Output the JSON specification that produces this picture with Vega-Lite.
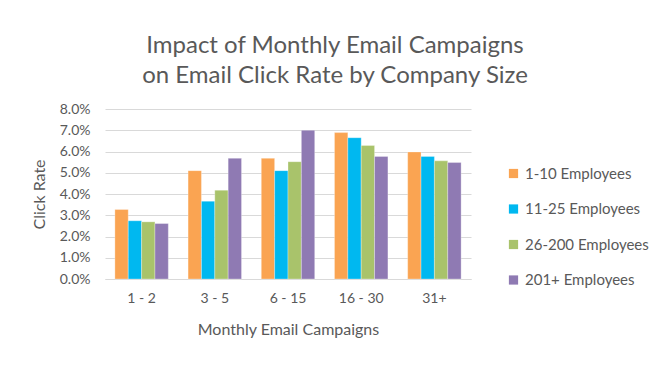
{
  "$schema": "https://vega.github.io/schema/vega-lite/v6.json",
  "autosize": "none",
  "width": 366,
  "height": 170,
  "padding": {"left": 105, "top": 109, "right": 198, "bottom": 88},
  "background": "white",
  "title": {
    "text": ["Impact of Monthly Email Campaigns", "on Email Click Rate by Company Size"],
    "font": "Lato",
    "fontSize": 24,
    "fontWeight": "normal",
    "color": "#595959",
    "lineHeight": 30,
    "anchor": "middle",
    "dx": 47,
    "offset": 14
  },
  "data": {
    "values": [
      {"campaigns": "1 - 2", "size": "1-10 Employees", "rate": 0.0327},
      {"campaigns": "1 - 2", "size": "11-25 Employees", "rate": 0.0274},
      {"campaigns": "1 - 2", "size": "26-200 Employees", "rate": 0.0269},
      {"campaigns": "1 - 2", "size": "201+ Employees", "rate": 0.0261},
      {"campaigns": "3 - 5", "size": "1-10 Employees", "rate": 0.0510},
      {"campaigns": "3 - 5", "size": "11-25 Employees", "rate": 0.0366},
      {"campaigns": "3 - 5", "size": "26-200 Employees", "rate": 0.0418},
      {"campaigns": "3 - 5", "size": "201+ Employees", "rate": 0.0568},
      {"campaigns": "6 - 15", "size": "1-10 Employees", "rate": 0.0568},
      {"campaigns": "6 - 15", "size": "11-25 Employees", "rate": 0.0510},
      {"campaigns": "6 - 15", "size": "26-200 Employees", "rate": 0.0552},
      {"campaigns": "6 - 15", "size": "201+ Employees", "rate": 0.0700},
      {"campaigns": "16 - 30", "size": "1-10 Employees", "rate": 0.0689},
      {"campaigns": "16 - 30", "size": "11-25 Employees", "rate": 0.0665},
      {"campaigns": "16 - 30", "size": "26-200 Employees", "rate": 0.0628},
      {"campaigns": "16 - 30", "size": "201+ Employees", "rate": 0.0577},
      {"campaigns": "31+", "size": "1-10 Employees", "rate": 0.0598},
      {"campaigns": "31+", "size": "11-25 Employees", "rate": 0.0577},
      {"campaigns": "31+", "size": "26-200 Employees", "rate": 0.0556},
      {"campaigns": "31+", "size": "201+ Employees", "rate": 0.0548}
    ]
  },
  "mark": {"type": "bar", "stroke": "white", "strokeWidth": 0.5, "strokeOpacity": 0.6},
  "encoding": {
    "x": {
      "field": "campaigns",
      "type": "nominal",
      "sort": ["1 - 2", "3 - 5", "6 - 15", "16 - 30", "31+"],
      "scale": {"paddingInner": 0.27, "paddingOuter": 0.135},
      "axis": {
        "title": "Monthly Email Campaigns",
        "titleFont": "Lato",
        "titleFontSize": 16,
        "titleFontWeight": "normal",
        "titleColor": "#595959",
        "titlePadding": 16,
        "labelFont": "Lato",
        "labelFontSize": 14,
        "labelColor": "#595959",
        "labelAngle": 0,
        "labelPadding": 12,
        "ticks": false,
        "domainColor": "#D9D9D9",
        "domainWidth": 1
      }
    },
    "xOffset": {
      "field": "size",
      "type": "nominal",
      "sort": ["1-10 Employees", "11-25 Employees", "26-200 Employees", "201+ Employees"],
      "scale": {"paddingInner": 0, "paddingOuter": 0}
    },
    "y": {
      "field": "rate",
      "type": "quantitative",
      "scale": {"domain": [0, 0.08], "nice": false},
      "axis": {
        "title": "Click Rate",
        "titleFont": "Lato",
        "titleFontSize": 16,
        "titleFontWeight": "normal",
        "titleColor": "#595959",
        "titlePadding": 12,
        "format": ".1%",
        "values": [0, 0.01, 0.02, 0.03, 0.04, 0.05, 0.06, 0.07, 0.08],
        "labelFont": "Lato",
        "labelFontSize": 14,
        "labelColor": "#595959",
        "labelPadding": 15,
        "ticks": false,
        "domain": false,
        "gridColor": "#D9D9D9",
        "gridWidth": 1
      }
    },
    "color": {
      "field": "size",
      "type": "nominal",
      "sort": ["1-10 Employees", "11-25 Employees", "26-200 Employees", "201+ Employees"],
      "scale": {
        "domain": ["1-10 Employees", "11-25 Employees", "26-200 Employees", "201+ Employees"],
        "range": ["#FAA452", "#00B8F0", "#A9C36B", "#8F7AB3"]
      },
      "legend": {
        "title": null,
        "orient": "none",
        "legendX": 401,
        "legendY": 57,
        "symbolType": "square",
        "symbolSize": 85,
        "symbolStrokeWidth": 0,
        "labelFont": "Lato",
        "labelFontSize": 15,
        "labelColor": "#595959",
        "rowPadding": 19.5,
        "labelOffset": 4
      }
    }
  },
  "config": {
    "view": {"stroke": null}
  }
}
